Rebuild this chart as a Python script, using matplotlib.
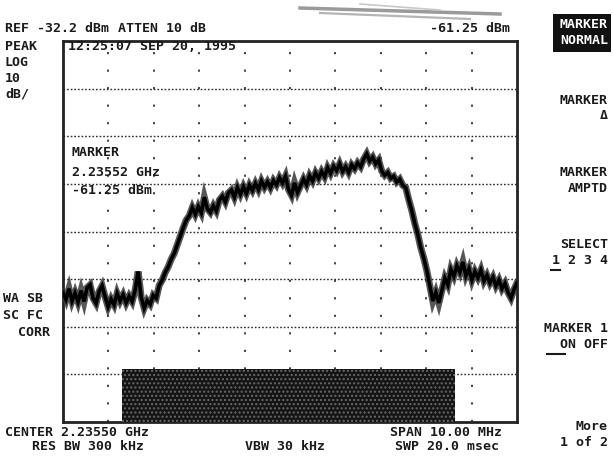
import numpy as np
import matplotlib
matplotlib.use("Agg")
import matplotlib.pyplot as plt
from matplotlib.patches import Rectangle

# Analyzer settings
center_ghz = 2.23550
span_mhz = 10.00
ref_dbm = -32.2
db_per_div = 10
n_vdiv = 8
n_hdiv = 10
marker_ghz = 2.23552
marker_dbm = -61.25

# Swept trace (dBm), left to right across the span
trace_dbm = [
    -85.0, -86.5, -84.2, -86.8, -85.1, -87.0, -84.6, -86.9, -84.0, -83.4,
    -86.2, -87.3, -84.8, -83.6, -85.9, -88.0, -86.4, -87.6, -85.2, -86.8,
    -85.5, -87.2, -85.8, -86.9, -84.5, -80.6, -86.0, -88.3, -86.7, -87.5,
    -85.6, -86.2, -83.5, -82.4, -80.8, -79.6, -78.0, -76.8, -75.0, -73.2,
    -71.4, -69.8, -68.9, -67.2, -68.6, -67.0, -68.3, -65.0, -67.4, -68.2,
    -66.8, -67.9, -65.6, -64.8, -66.0, -64.1, -63.5, -65.0, -63.0, -64.4,
    -62.8, -64.2, -62.5, -63.6, -62.1, -63.4, -61.6, -62.9, -61.8, -63.0,
    -61.5, -62.4, -60.9, -62.0, -60.6, -63.4, -64.6, -62.0, -64.0, -62.6,
    -61.2, -62.4, -60.5, -61.6, -59.9, -61.0, -59.6, -60.7, -58.8, -60.0,
    -58.5, -59.4, -58.0, -59.6, -58.6, -59.8, -58.2, -59.0, -57.8, -58.6,
    -57.0, -55.9, -57.4, -56.6, -58.0, -57.2, -59.5, -60.4, -59.8, -61.0,
    -60.6, -61.8, -61.2, -62.5, -63.0, -65.5, -67.8, -70.5, -72.8, -75.6,
    -77.8, -80.4, -83.6, -86.8, -85.0, -87.2, -84.6, -82.0, -83.4, -80.2,
    -81.6, -79.4, -80.8, -78.6, -81.5, -80.0, -82.4, -80.6, -81.9, -80.3,
    -82.6, -81.4, -83.0, -81.8, -83.6, -82.4, -84.2, -83.1, -85.0, -86.2,
    -84.4, -83.0,
]

header_ref = "REF -32.2 dBm"
header_atten = "ATTEN 10 dB"
header_mkr = "-61.25 dBm"
timestamp = "12:25:07 SEP 20, 1995"
left_status = ["PEAK", "LOG", "10", "dB/"]
left_flags = ["WA SB", "SC FC", "CORR"]
marker_lines = ["MARKER", "2.23552 GHz", "-61.25 dBm"]
footer = {
    "center": "CENTER 2.23550 GHz",
    "rbw": "RES BW 300 kHz",
    "vbw": "VBW 30 kHz",
    "span": "SPAN 10.00 MHz",
    "swp": "SWP 20.0 msec",
}
softkeys = [("MARKER", "Δ"), ("MARKER", "AMPTD"), ("SELECT", "1 2 3 4"),
            ("MARKER 1", "ON OFF"), ("More", "1 of 2")]

W, H = 613, 463
fig = plt.figure(figsize=(W / 100, H / 100), dpi=100)
fig.patch.set_facecolor("white")

# graticule box in pixels
gx0, gx1, gy0, gy1 = 63, 517, 41, 422
ax = fig.add_axes([gx0 / W, 1 - gy1 / H, (gx1 - gx0) / W, (gy1 - gy0) / H])
ax.set_facecolor("white")

span_ghz = span_mhz / 1000.0
f_lo, f_hi = center_ghz - span_ghz / 2, center_ghz + span_ghz / 2
bottom_dbm = ref_dbm - n_vdiv * db_per_div
ax.set_xlim(f_lo, f_hi)
ax.set_ylim(bottom_dbm, ref_dbm)
ax.set_xticks([])
ax.set_yticks([])
for s in ax.spines.values():
    s.set_linewidth(2.0)
    s.set_color("#222222")

# horizontal graticule lines (dotted)
for k in range(1, n_vdiv):
    ax.axhline(ref_dbm - k * db_per_div, color="#2a2a2a", lw=1.0,
               ls=(0, (1.2, 1.4)), zorder=1)
# vertical graticule lines (sparse dots)
for k in range(1, n_hdiv):
    ax.axvline(f_lo + k * span_ghz / n_hdiv, color="#333333", lw=1.3,
               ls=(0, (1.2, 8.5)), zorder=1)

freqs = np.linspace(f_lo, f_hi, len(trace_dbm))
ax.plot(freqs, trace_dbm, color="#3a3a3a", lw=5.0, zorder=3,
        solid_joinstyle="miter", alpha=0.85)
ax.plot(freqs, trace_dbm, color="black", lw=2.6, zorder=4,
        solid_joinstyle="miter")

# dark block at the bottom of the display
bx0, bx1, by0 = 122, 455, 369
rect = Rectangle((f_lo + (bx0 - gx0) / (gx1 - gx0) * span_ghz, bottom_dbm),
                 (bx1 - bx0) / (gx1 - gx0) * span_ghz,
                 (gy1 - by0) / (gy1 - gy0) * n_vdiv * db_per_div,
                 facecolor="#141414", edgecolor="#6a6a6a", hatch="....",
                 lw=0, zorder=5)
ax.add_patch(rect)

font = dict(family="DejaVu Sans Mono", fontweight="bold", fontsize=9.5,
            color="#1a1a1a")


def put(x, y, s, ha="left", **kw):
    opts = dict(font)
    opts.update(kw)
    fig.text(x / W, 1 - y / H, s, ha=ha, va="center", **opts)


put(5, 29, header_ref)
put(118, 29, header_atten)
put(510, 29, header_mkr, ha="right")
for i, s in enumerate(left_status):
    put(5, 46 + 16 * i, s)
put(68, 47, timestamp, zorder=6)
for i, s in enumerate(marker_lines):
    put(72, 153 + 19 * i, s, zorder=6)
for i, s in enumerate(left_flags):
    put(3 if i < 2 else 18, 298 + 17.5 * i, s)

put(5, 432, footer["center"])
put(32, 447, footer["rbw"])
put(245, 447, footer["vbw"])
put(390, 432, footer["span"])
put(395, 447, footer["swp"])

# softkey column
fig.patches.append(Rectangle((553 / W, 1 - 52 / H), 58 / W, 38 / H,
                             transform=fig.transFigure, facecolor="#111111",
                             edgecolor="none"))
put(608, 24, "MARKER", ha="right", color="white")
put(608, 40, "NORMAL", ha="right", color="white")
key_y = [100, 172, 245, 328, 426]
for (top, bot), y in zip(softkeys, key_y):
    put(608, y, top, ha="right")
    put(608, y + 16, bot, ha="right")

# underline the active choices
fig.add_artist(plt.Line2D([551 / W, 560 / W], [1 - 270 / H] * 2,
                          color="#1a1a1a", lw=1.5))
fig.add_artist(plt.Line2D([547 / W, 565 / W], [1 - 354 / H] * 2,
                          color="#1a1a1a", lw=1.5))

# faint smear across the top edge of the print
for (xa, xb, ya, lw, c) in [(300, 500, 8, 2.5, "#9a9a9a"),
                            (320, 470, 13, 1.6, "#b5b5b5"),
                            (360, 440, 4, 1.2, "#c8c8c8")]:
    fig.add_artist(plt.Line2D([xa / W, xb / W], [1 - ya / H, 1 - (ya + 6) / H],
                              color=c, lw=lw))

fig.savefig("out.png", dpi=100, facecolor="white")
